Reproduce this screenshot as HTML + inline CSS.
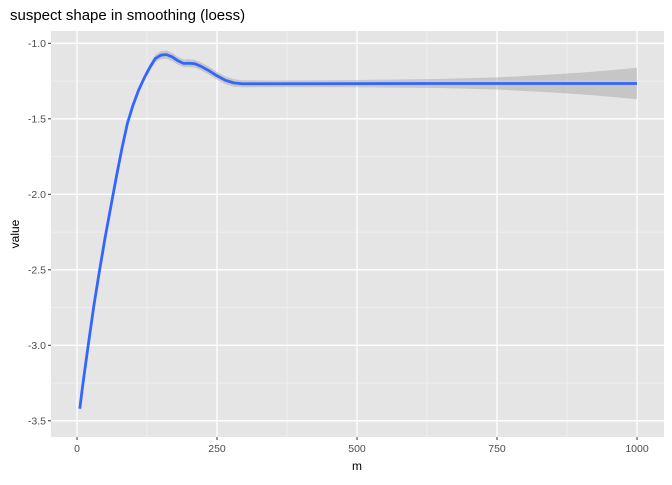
<!DOCTYPE html>
<html><head><meta charset="utf-8"><style>
body{margin:0;background:#fff;font-family:"Liberation Sans",sans-serif}
</style></head><body>
<svg id="chart" width="672" height="480" xmlns="http://www.w3.org/2000/svg" font-family="Liberation Sans, sans-serif">
<text x="10" y="20" font-size="15" fill="#000">suspect shape in smoothing (loess)</text>
<rect x="51" y="31" width="613" height="406" fill="#e5e5e5"/>
<g id="grid"></g>
<g id="ribbon"></g>
<g id="line"></g>
<g id="axes"></g>
<text x="357" y="470" font-size="12" text-anchor="middle">m</text>
<text transform="translate(19,234) rotate(-90)" font-size="12" text-anchor="middle">value</text>
</svg>
<script>
const mVals=[5,10,20,30,40,50,60,70,80,90,100,110,120,130,140,150,160,170,180,190,200,210,220,235,250,265,280,295,350,500,650,750,800,850,900,950,1000];
const fitVals=[-3.42,-3.27,-3.0,-2.74,-2.51,-2.29,-2.09,-1.89,-1.7,-1.53,-1.41,-1.31,-1.23,-1.16,-1.1,-1.078,-1.075,-1.09,-1.115,-1.133,-1.132,-1.135,-1.15,-1.18,-1.215,-1.245,-1.262,-1.268,-1.268,-1.267,-1.266,-1.266,-1.266,-1.266,-1.266,-1.266,-1.266];
const seVals=[0.02,0.019,0.018,0.017,0.016,0.016,0.016,0.016,0.017,0.018,0.018,0.019,0.02,0.022,0.025,0.027,0.027,0.027,0.026,0.026,0.026,0.026,0.026,0.026,0.026,0.025,0.025,0.024,0.022,0.024,0.03,0.04,0.05,0.06,0.072,0.087,0.104];
const xTicks=[0,250,500,750,1000];
const yTicks=[-1.0,-1.5,-2.0,-2.5,-3.0,-3.5];
const ns="http://www.w3.org/2000/svg";
const X=m=>77+0.56*m;
const Y=v=>43.3-(v+1.0)*151;
function mk(t,a,p){const e=document.createElementNS(ns,t);for(const k in a)e.setAttribute(k,a[k]);p.appendChild(e);return e;}
const grid=document.getElementById('grid'),axes=document.getElementById('axes');
xTicks.forEach((t,i)=>{
 if(i<xTicks.length-1){const l=mk('line',{x1:X(t+125),x2:X(t+125),y1:31,y2:437,stroke:'#f4f4f4','stroke-width':0.7},grid);
 }
 const g=mk('line',{x1:X(t),x2:X(t),y1:31,y2:437,stroke:'#fff','stroke-width':1.3},grid);
 
 const tk=mk('line',{x1:X(t),x2:X(t),y1:437,y2:440,stroke:'#333','stroke-width':1},axes);
 
 const tx=mk('text',{x:X(t),y:452,'font-size':10.5,'text-anchor':'middle',fill:'#4d4d4d'},axes);tx.textContent=String(t);
 
});
yTicks.forEach((t,i)=>{
 if(i<yTicks.length-1){const l=mk('line',{x1:51,x2:664,y1:Y(t-0.25),y2:Y(t-0.25),stroke:'#f4f4f4','stroke-width':0.7},grid);
 }
 const g=mk('line',{x1:51,x2:664,y1:Y(t),y2:Y(t),stroke:'#fff','stroke-width':1.3},grid);
 
 const tk=mk('line',{x1:48,x2:51,y1:Y(t),y2:Y(t),stroke:'#333','stroke-width':1},axes);
 
 const tx=mk('text',{x:46,y:Y(t)+3.7,'font-size':10.5,'text-anchor':'end',fill:'#4d4d4d'},axes);tx.textContent=t.toFixed(1);
 
});
let up=mVals.map((m,i)=>X(m)+','+Y(fitVals[i]+seVals[i]));
let lo=mVals.map((m,i)=>X(m)+','+Y(fitVals[i]-seVals[i])).reverse();
const rb=mk('polygon',{points:up.concat(lo).join(' '),fill:'#999','fill-opacity':0.4,stroke:'none'},document.getElementById('ribbon'));

const ln=mk('polyline',{points:mVals.map((m,i)=>X(m)+','+Y(fitVals[i])).join(' '),fill:'none',stroke:'#3366ff','stroke-width':2.8,'stroke-linejoin':'round'},document.getElementById('line'));

</script>
</body></html>
